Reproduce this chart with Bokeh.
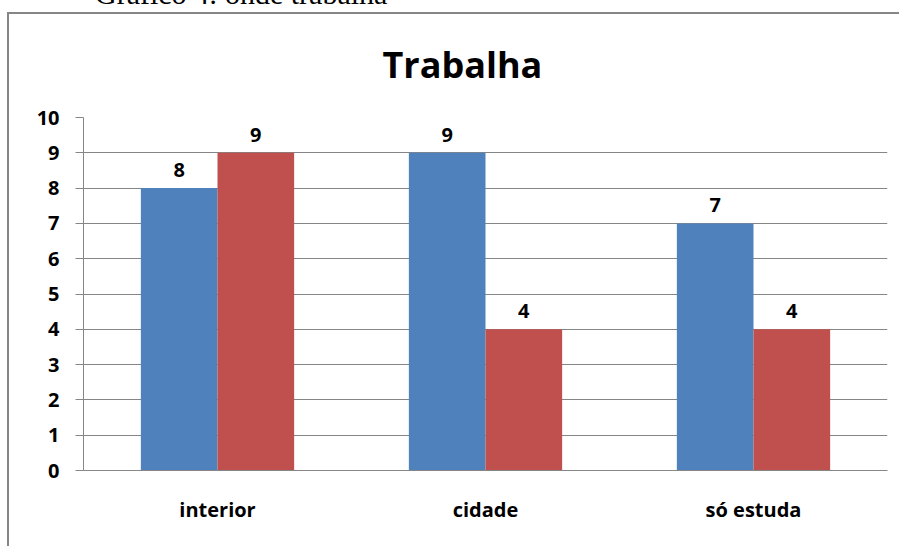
from bokeh.plotting import figure
from bokeh.models import ColumnDataSource, FactorRange, Range1d, FixedTicker, Div
from bokeh.transform import dodge
from bokeh.core.properties import value
from bokeh.embed import file_html
from bokeh.resources import INLINE

categories = ["interior", "cidade", "só estuda"]
series_a = [8, 9, 7]
series_b = [9, 4, 4]
y_ticks = [0, 1, 2, 3, 4, 5, 6, 7, 8, 9, 10]
title_text = "Trabalha"
caption_text = "Gráfico 4: onde trabalha"

BLUE = "#4F81BD"
RED = "#C0504D"
GRAY = "#868686"
FONT = "Open Sans"

src = ColumnDataSource(dict(
    cat=categories, a=series_a, b=series_b,
    a_lbl=[str(v) for v in series_a], b_lbl=[str(v) for v in series_b],
))

p = figure(
    x_range=FactorRange(*categories, range_padding=0),
    y_range=Range1d(0, 10),
    width=899, height=546,
    output_backend="svg", toolbar_location=None,
    min_border_left=83, min_border_right=12,
    min_border_top=117, min_border_bottom=76,
    title=title_text,
)
# outer chart frame (left and top edges) drawn as host background
p.styles = {
    "position": "absolute", "top": "0px", "left": "0px",
    "background": ("linear-gradient(#868686, #868686) 7px 12px / 2px 600px no-repeat, "
                   "linear-gradient(#868686, #868686) 7px 12px / 1000px 2px no-repeat, #ffffff"),
}
p.outline_line_color = None
p.background_fill_color = "white"
p.border_fill_color = None

p.title.align = "left"
p.title.offset = 299
p.title.standoff = 58
p.title.text_font = FONT
p.title.text_font_style = "bold"
p.title.text_font_size = "36px"
p.title.text_color = "black"

bw = 0.286
p.vbar(x=dodge("cat", -bw / 2, range=p.x_range), top="a", width=bw, source=src,
       fill_color=BLUE, line_color=None)
p.vbar(x=dodge("cat", bw / 2, range=p.x_range), top="b", width=bw, source=src,
       fill_color=RED, line_color=None)

for col, lbl, off in (("a", "a_lbl", -bw / 2), ("b", "b_lbl", bw / 2)):
    p.text(x=dodge("cat", off, range=p.x_range), y=col, text=lbl, source=src,
           y_offset=-18, text_align="center", text_baseline="alphabetic",
           text_font=value(FONT), text_font_style="bold", text_font_size="20px",
           text_color="black")

p.xgrid.grid_line_color = None
p.ygrid.ticker = FixedTicker(ticks=y_ticks)
p.ygrid.grid_line_color = GRAY
p.ygrid.grid_line_width = 1

p.yaxis.ticker = FixedTicker(ticks=y_ticks)
p.yaxis.axis_line_color = GRAY
p.yaxis.major_tick_line_color = GRAY
p.yaxis.major_tick_out = 8
p.yaxis.major_tick_in = 0
p.yaxis.minor_tick_line_color = None
p.yaxis.major_label_standoff = 16
p.yaxis.major_label_text_font = FONT
p.yaxis.major_label_text_font_style = "bold"
p.yaxis.major_label_text_font_size = "20px"
p.yaxis.major_label_text_color = "black"

p.xaxis.axis_line_color = GRAY
p.xaxis.major_tick_line_color = None
p.xaxis.minor_tick_line_color = None
p.xaxis.major_label_standoff = 19
p.xaxis.major_label_text_font = FONT
p.xaxis.major_label_text_font_style = "bold"
p.xaxis.major_label_text_font_size = "20px"
p.xaxis.major_label_text_color = "black"

caption = Div(
    text=('<span style="font-family: \'Liberation Serif\'; font-size: 30px; '
          'line-height: 30px; color: #000; white-space: nowrap;">' + caption_text + '</span>'),
    styles={"position": "absolute", "top": "-21px", "left": "95px", "margin": "0px"},
)

open("out.html", "w").write(file_html([p, caption], INLINE))
